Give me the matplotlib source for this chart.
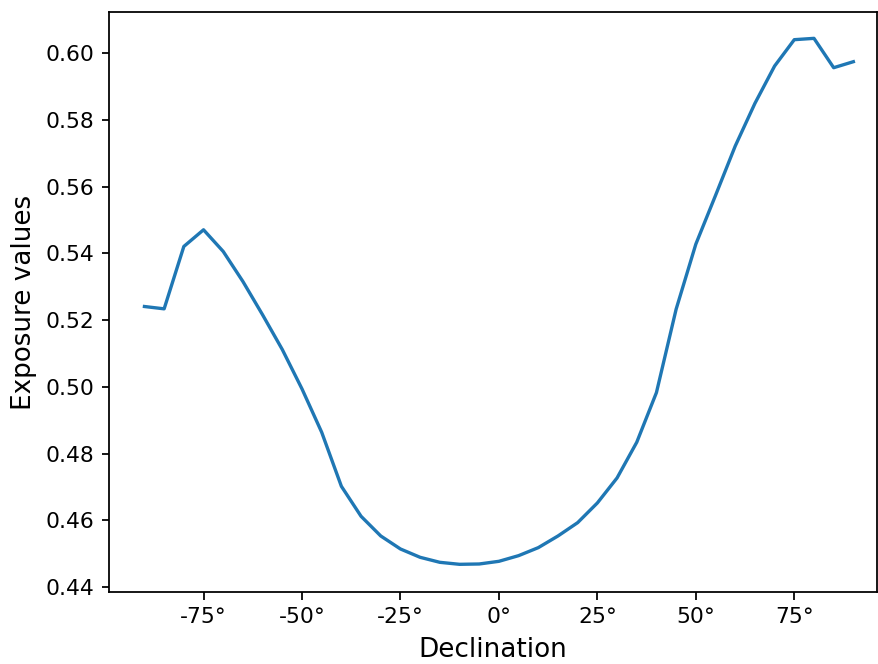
import numpy as np
import matplotlib
matplotlib.use("Agg")
import matplotlib.pyplot as plt
from matplotlib.ticker import FuncFormatter

declination = [-90, -85, -80, -75, -70, -65, -60, -55, -50, -45, -40, -35, -30,
               -25, -20, -15, -10, -5, 0, 5, 10, 15, 20, 25, 30, 35, 40, 45,
               50, 55, 60, 65, 70, 75, 80, 85, 90]
exposure = [0.5241, 0.5234, 0.5421, 0.5471, 0.5406, 0.5316, 0.5216, 0.5112,
            0.4994, 0.4864, 0.4702, 0.4612, 0.4553, 0.4514, 0.4489, 0.4474,
            0.4468, 0.4469, 0.4477, 0.4494, 0.4518, 0.4553, 0.4593, 0.4652,
            0.4727, 0.4834, 0.4983, 0.5233, 0.5428, 0.5574, 0.5722, 0.5850,
            0.5962, 0.6041, 0.6045, 0.5957, 0.5975]

fig = plt.figure(figsize=(878 / 150, 664 / 150), dpi=150)
ax = fig.add_axes([109 / 878, 1 - 592 / 664, (877 - 109) / 878, (592 - 12) / 664])
ax.plot(declination, exposure, color="#1f77b4", linewidth=1.6)

ax.xaxis.set_major_formatter(FuncFormatter(lambda v, p: f"{int(round(v))}°"))
ax.set_xticks([-75, -50, -25, 0, 25, 50, 75])
ax.set_xlim(-99, 96)
ax.set_ylim(0.4385, 0.6124)
ax.set_yticks([0.44, 0.46, 0.48, 0.50, 0.52, 0.54, 0.56, 0.58, 0.60])
ax.yaxis.set_major_formatter(FuncFormatter(lambda v, p: f"{v:.2f}"))
ax.tick_params(labelsize=10.5, width=0.85, length=3.6)
for s in ax.spines.values():
    s.set_linewidth(0.85)
ax.set_xlabel("Declination", fontsize=12.6, labelpad=5)
ax.set_ylabel("Exposure values", fontsize=12.6, labelpad=4)

fig.savefig("out.png", dpi=150)
